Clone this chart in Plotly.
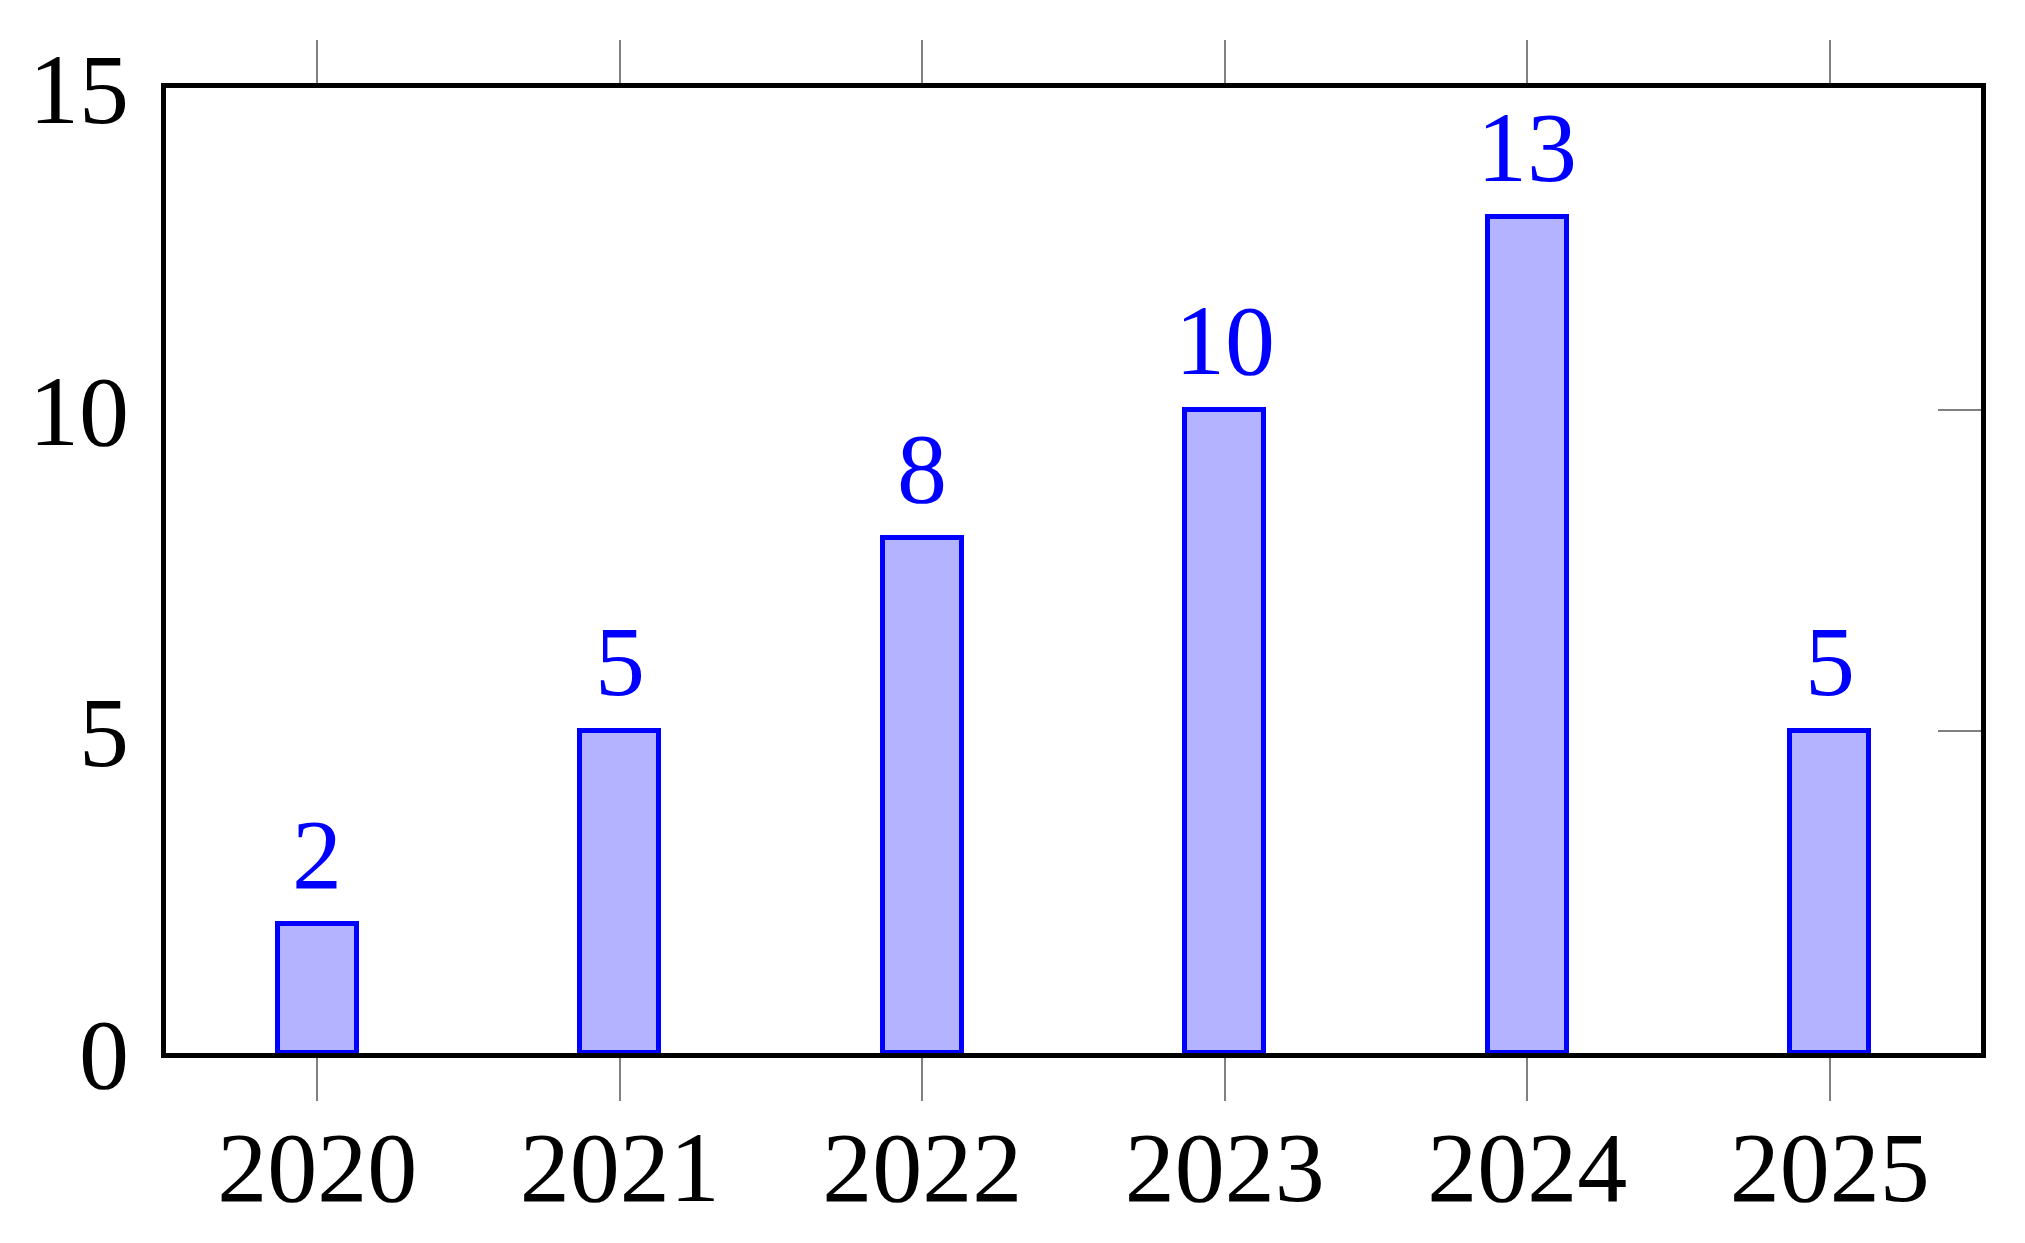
import plotly.graph_objects as go

years = ["2020", "2021", "2022", "2023", "2024", "2025"]
values = [2, 5, 8, 10, 13, 5]
y_ticks = [0, 5, 10, 15]

FONT = "Liberation Serif"
FS = 100

fig = go.Figure()
fig.add_trace(go.Bar(
    x=years, y=values, width=0.26,
    marker=dict(color="#B3B3FF", line=dict(color="#0000FF", width=5)),
    showlegend=False, hoverinfo="skip",
))
# helper trace to carry the right-hand y axis (inside ticks)
fig.add_trace(go.Scatter(x=years, y=values, yaxis="y2", mode="none",
                         showlegend=False, hoverinfo="skip"))

# value labels above bars (category axis -> index positions)
for i, v in enumerate(values):
    fig.add_annotation(x=i, y=v, xref="x", yref="y", text=str(v),
                       showarrow=False, yanchor="bottom", yshift=12,
                       font=dict(family=FONT, size=FS, color="#0000FF"))

fig.update_layout(
    width=2025, height=1243,
    margin=dict(l=158, r=52, t=80, b=198),
    plot_bgcolor="white", paper_bgcolor="white",
    font=dict(family=FONT, size=FS, color="black"),
    xaxis=dict(
        type="category", range=[-0.5, 5.5],
        showline=True, linecolor="black", linewidth=5, mirror="ticks",
        ticks="outside", ticklen=43, tickwidth=2, tickcolor="#808080",
        showgrid=False, zeroline=False,
        tickfont=dict(family=FONT, size=FS, color="black"),
        ticklabelstandoff=-20,
    ),
    yaxis=dict(
        range=[0, 15], tickvals=y_ticks,
        showline=True, linecolor="black", linewidth=5, mirror=True,
        ticks="", showgrid=False, zeroline=False,
        tickfont=dict(family=FONT, size=FS, color="black"),
        ticklabelstandoff=12,
    ),
    yaxis2=dict(
        range=[0, 15], tickvals=y_ticks, overlaying="y", side="right",
        ticks="inside", ticklen=43, tickwidth=2, tickcolor="#808080",
        showticklabels=False, showgrid=False, zeroline=False, showline=False,
    ),
    bargap=0,
)

fig.write_html("out.html")
